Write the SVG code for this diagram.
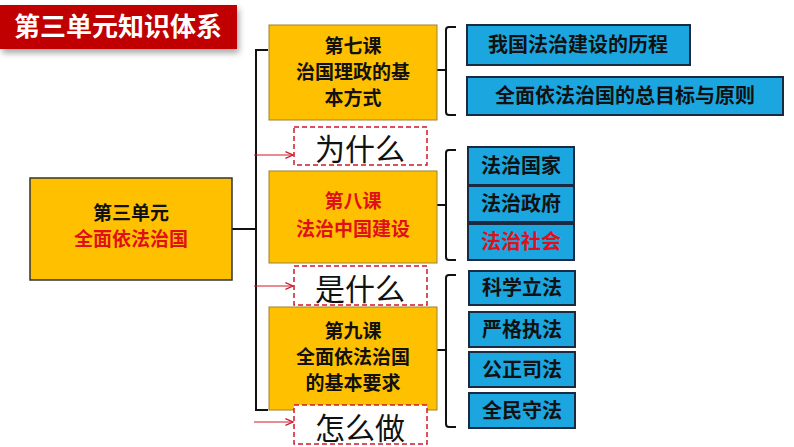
<svg xmlns="http://www.w3.org/2000/svg" width="794" height="447" viewBox="0 0 794 447">
<defs>
<style>
.t{font-family:"Liberation Sans","Noto Sans CJK SC",sans-serif;font-weight:bold;text-anchor:middle}
.y{fill:#FFC000;stroke:#A08030;stroke-width:1}
.b{fill:#1BA6DF;stroke:#1a2a40;stroke-width:2}
.d{fill:#fff;stroke:#D0182A;stroke-width:1.5;stroke-dasharray:5 3}
.ln{fill:none;stroke:#111;stroke-width:2}
.ar{stroke:#D0182A;stroke-width:1.2;fill:none}
</style>
<marker id="a" viewBox="0 0 10 10" refX="9" refY="5" markerWidth="7" markerHeight="7" orient="auto"><path d="M0,1 L9,5 L0,9" fill="none" stroke="#D0182A" stroke-width="1.5"/></marker>
<filter id="sh" x="-10%" y="-10%" width="130%" height="150%"><feDropShadow dx="2" dy="4" stdDeviation="3" flood-opacity="0.35"/></filter>
</defs>
<rect width="794" height="447" fill="#fff"/>
<g id="title"><rect x="0" y="5" width="237" height="44" fill="#C00000" filter="url(#sh)"/><text class="t" x="118" y="36" font-size="26" fill="#fff">第三单元知识体系</text></g>
<g id="connectors">
<path class="ln" d="M268,50 H256 V410 H268 M232,229 H256"/>
<path class="ln" d="M437,70 H446 M456,27 H449 Q446,27 446,30 V112 Q446,115 449,115 H456"/>
<path class="ln" d="M446,205 H446 M456,150 H449 Q446,150 446,153 V257 Q446,260 449,260 H456 M437,205 H446"/>
<path class="ln" d="M437,350 H446 M456,275 H449 Q446,275 446,278 V424 Q446,427 449,427 H456"/>
<line class="ar" x1="254" y1="155" x2="293" y2="155" marker-end="url(#a)"/>
<line class="ar" x1="254" y1="286" x2="293" y2="286" marker-end="url(#a)"/>
<line class="ar" x1="254" y1="422" x2="293" y2="422" marker-end="url(#a)"/>
</g>
<g id="unit"><rect x="30" y="178" width="202" height="102" fill="#FFC000" stroke="#333" stroke-width="1.5"/><text class="t" x="131" y="220" font-size="19" fill="#111">第三单元</text><text class="t" x="131" y="246" font-size="19" fill="#E0101A">全面依法治国</text></g>
<g id="l7"><rect class="y" x="269" y="25" width="168" height="95"/><text class="t" x="353" y="53" font-size="19" fill="#111">第七课</text><text class="t" x="353" y="79" font-size="19" fill="#111">治国理政的基</text><text class="t" x="353" y="105" font-size="19" fill="#111">本方式</text></g>
<g id="why"><rect class="d" x="294" y="127" width="133" height="38"/><text x="360" y="160" font-size="30" text-anchor="middle" font-family="Noto Sans CJK SC,sans-serif" fill="#111">为什么</text></g>
<g id="l8"><rect class="y" x="269" y="171" width="168" height="92"/><text class="t" x="353" y="208" font-size="19" fill="#E0101A">第八课</text><text class="t" x="353" y="236" font-size="19" fill="#E0101A">法治中国建设</text></g>
<g id="what"><rect class="d" x="294" y="266" width="133" height="39"/><text x="360" y="300" font-size="30" text-anchor="middle" font-family="Noto Sans CJK SC,sans-serif" fill="#111">是什么</text></g>
<g id="l9"><rect class="y" x="269" y="307" width="168" height="103"/><text class="t" x="353" y="338" font-size="19" fill="#111">第九课</text><text class="t" x="353" y="364" font-size="19" fill="#111">全面依法治国</text><text class="t" x="353" y="390" font-size="19" fill="#111">的基本要求</text></g>
<g id="how"><rect class="d" x="294" y="405" width="133" height="39"/><text x="360" y="439" font-size="30" text-anchor="middle" font-family="Noto Sans CJK SC,sans-serif" fill="#111">怎么做</text></g>
<g id="r1"><rect class="b" x="467" y="25" width="223" height="40"/><text class="t" x="578" y="52" font-size="20" fill="#111">我国法治建设的历程</text></g>
<g id="r2"><rect class="b" x="467" y="77" width="316" height="38"/><text class="t" x="625" y="103" font-size="20" fill="#111">全面依法治国的总目标与原则</text></g>
<g id="r3"><rect class="b" x="468" y="147" width="106" height="38"/><text class="t" x="521" y="173" font-size="20" fill="#111">法治国家</text></g>
<g id="r4"><rect class="b" x="468" y="186" width="106" height="36"/><text class="t" x="521" y="211" font-size="20" fill="#111">法治政府</text></g>
<g id="r5"><rect class="b" x="468" y="224" width="106" height="36"/><text class="t" x="521" y="249" font-size="20" fill="#E0101A">法治社会</text></g>
<g id="r6"><rect class="b" x="469" y="271" width="106" height="34"/><text class="t" x="522" y="295" font-size="20" fill="#111">科学立法</text></g>
<g id="r7"><rect class="b" x="469" y="312" width="106" height="35"/><text class="t" x="522" y="337" font-size="20" fill="#111">严格执法</text></g>
<g id="r8"><rect class="b" x="469" y="352" width="106" height="35"/><text class="t" x="522" y="377" font-size="20" fill="#111">公正司法</text></g>
<g id="r9"><rect class="b" x="469" y="393" width="106" height="35"/><text class="t" x="522" y="418" font-size="20" fill="#111">全民守法</text></g>
</svg>
